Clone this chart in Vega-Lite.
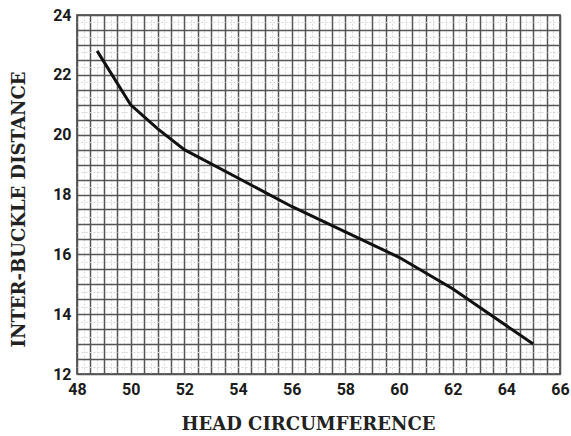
{
  "$schema": "https://vega.github.io/schema/vega-lite/v6.json",
  "width": 483,
  "height": 359,
  "autosize": {"type": "none"},
  "padding": {"left": 77, "top": 15, "right": 11, "bottom": 62},
  "background": "white",
  "config": {"view": {"stroke": "#333", "strokeWidth": 1.5}},
  "data": {"values": [
    {"head": 48.75, "dist": 22.8},
    {"head": 50, "dist": 21.0},
    {"head": 51, "dist": 20.2},
    {"head": 52, "dist": 19.5},
    {"head": 54, "dist": 18.55},
    {"head": 56, "dist": 17.6},
    {"head": 58, "dist": 16.75},
    {"head": 60, "dist": 15.9},
    {"head": 62, "dist": 14.85},
    {"head": 65, "dist": 13.0}
  ]},
  "layer": [
    {
      "mark": {"type": "point", "opacity": 0},
      "encoding": {
        "x": {"field": "head", "type": "quantitative", "scale": {"domain": [48, 66], "nice": false},
          "axis": {"values": [48.25,48.75,49.25,49.75,50.25,50.75,51.25,51.75,52.25,52.75,53.25,53.75,54.25,54.75,55.25,55.75,56.25,56.75,57.25,57.75,58.25,58.75,59.25,59.75,60.25,60.75,61.25,61.75,62.25,62.75,63.25,63.75,64.25,64.75,65.25,65.75],
            "orient": "bottom", "labels": false, "ticks": false, "domain": false, "title": null,
            "grid": true, "gridColor": "#d6d6d6", "gridWidth": 1, "gridDash": [2, 2]}},
        "y": {"field": "dist", "type": "quantitative", "scale": {"domain": [12, 24], "nice": false},
          "axis": {"values": [12.25,12.75,13.25,13.75,14.25,14.75,15.25,15.75,16.25,16.75,17.25,17.75,18.25,18.75,19.25,19.75,20.25,20.75,21.25,21.75,22.25,22.75,23.25,23.75],
            "orient": "left", "labels": false, "ticks": false, "domain": false, "title": null,
            "grid": true, "gridColor": "#d6d6d6", "gridWidth": 1, "gridDash": [2, 2]}}
      }
    },
    {
      "mark": {"type": "line", "color": "#111", "strokeWidth": 3, "interpolate": "linear"},
      "encoding": {
        "x": {"field": "head", "type": "quantitative", "scale": {"domain": [48, 66], "nice": false},
          "axis": {"values": [48,48.5,49,49.5,50,50.5,51,51.5,52,52.5,53,53.5,54,54.5,55,55.5,56,56.5,57,57.5,58,58.5,59,59.5,60,60.5,61,61.5,62,62.5,63,63.5,64,64.5,65,65.5,66],
            "orient": "bottom",
            "labelExpr": "datum.value % 2 === 0 ? format(datum.value, 'd') : ''",
            "labelOverlap": false, "labelFlush": false,
            "ticks": false, "domain": false, "labelPadding": 7,
            "labelFont": "Roboto", "labelFontWeight": "bold", "labelFontSize": 16, "labelColor": "#1a1a1a",
            "grid": true, "gridColor": "#555", "gridWidth": 1.5,
            "title": "HEAD CIRCUMFERENCE", "titleFont": "DejaVu Serif", "titleFontWeight": "bold",
            "titleFontSize": 18, "titleColor": "#222", "titlePadding": 18, "titleX": 231}},
        "y": {"field": "dist", "type": "quantitative", "scale": {"domain": [12, 24], "nice": false},
          "axis": {"values": [12,12.5,13,13.5,14,14.5,15,15.5,16,16.5,17,17.5,18,18.5,19,19.5,20,20.5,21,21.5,22,22.5,23,23.5,24],
            "orient": "left",
            "labelExpr": "datum.value % 2 === 0 ? format(datum.value, 'd') : ''",
            "labelOverlap": false, "labelFlush": false,
            "ticks": false, "domain": false, "labelPadding": 6,
            "labelFont": "Roboto", "labelFontWeight": "bold", "labelFontSize": 16, "labelColor": "#1a1a1a",
            "grid": true, "gridColor": "#555", "gridWidth": 1.5,
            "title": "INTER-BUCKLE DISTANCE", "titleFont": "DejaVu Serif", "titleFontWeight": "bold",
            "titleFontSize": 18, "titleColor": "#222", "titlePadding": 24, "titleY": 194}}
      }
    }
  ],
  "resolve": {"axis": {"x": "independent", "y": "independent"}}
}
